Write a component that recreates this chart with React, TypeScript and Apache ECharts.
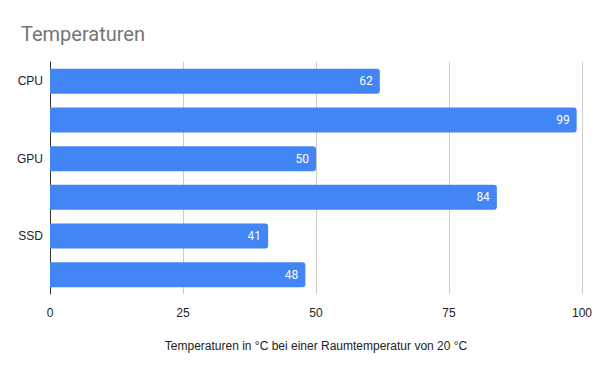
import React, { useEffect, useRef } from "react";
import * as echarts from "echarts";

const categories = ["CPU a", "CPU b", "GPU a", "GPU b", "SSD a", "SSD b"];
const categoryLabels = ["CPU", "", "GPU", "", "SSD", ""];
const values = [62, 99, 50, 84, 41, 48];
const xTicks = [0, 25, 50, 75, 100];

const axisFont = "'Liberation Sans', Arial, sans-serif";

export default function App() {
  const ref = useRef<HTMLDivElement>(null);
  useEffect(() => {
    if (!ref.current) return;
    const chart = echarts.init(ref.current, null, { renderer: "svg" });
    chart.setOption({
      animation: false,
      textStyle: { fontFamily: "Roboto, Arial, sans-serif" },
      title: {
        text: "Temperaturen",
        left: 16,
        top: 19,
        textStyle: { fontSize: 20, fontWeight: "normal", color: "#757575", fontFamily: "Roboto, Arial, sans-serif" },
      },
      grid: { left: 50, right: 18, top: 62, bottom: 77, containLabel: false },
      xAxis: {
        type: "value",
        min: xTicks[0],
        max: xTicks[xTicks.length - 1],
        interval: 25,
        axisLine: { show: false },
        axisTick: { show: false },
        splitLine: { show: true, lineStyle: { color: "#cccccc", width: 1 } },
        axisLabel: { color: "#222222", fontSize: 12, margin: 13, fontFamily: axisFont },
        name: "Temperaturen in °C bei einer Raumtemperatur von 20 °C",
        nameLocation: "middle",
        nameGap: 46,
        nameTextStyle: { color: "#222222", fontSize: 12, fontFamily: axisFont },
      },
      yAxis: {
        type: "category",
        inverse: true,
        data: categories,
        axisLine: { show: true, lineStyle: { color: "#333333", width: 1 } },
        axisTick: { show: false },
        axisLabel: {
          color: "#222222",
          fontSize: 12,
          margin: 7,
          interval: 0,
          fontFamily: axisFont,
          formatter: (_v: string, i: number) => categoryLabels[i],
        },
      },
      series: [
        {
          type: "bar",
          data: values,
          barWidth: 25,
          itemStyle: { color: "#4285F4", borderRadius: [0, 3, 3, 0] },
          label: {
            show: true,
            position: "insideRight",
            color: "#ffffff",
            fontSize: 12,
            distance: 7,
          },
        },
      ],
    });
    return () => chart.dispose();
  }, []);
  return <div ref={ref} style={{ width: 600, height: 371, position: "absolute", left: 0, top: 0 }} />;
}
